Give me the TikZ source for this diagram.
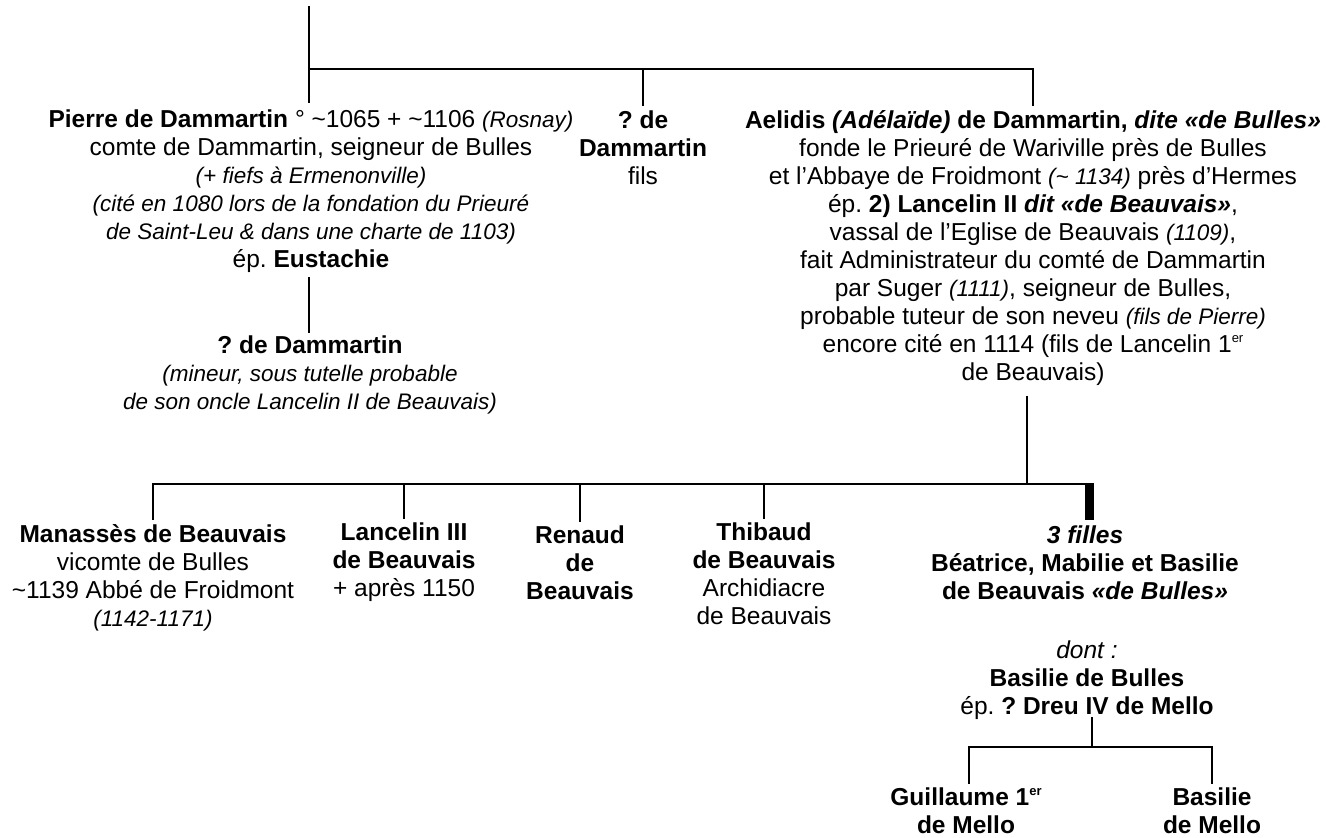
\documentclass[tikz,border=0pt]{standalone}
\usepackage{fontspec}
\setmainfont{Liberation Sans}
\frenchspacing
\newcommand\glose[1]{{\fontsize{22.5}{28}\selectfont\itshape #1}}
\newcommand\expo[1]{\raisebox{0.75ex}{\fontsize{13}{13}\selectfont #1}}

\begin{document}
\begin{tikzpicture}[x=1pt, y=-1pt, line width=2.6pt,
        person/.style={align=center, inner sep=0pt, anchor=north, font=\fontsize{24.5}{28}\selectfont}]
    \useasboundingbox (0,0) rectangle (1329,837);

    % premiere generation
    \node[person] (pierre)  at (311,108)  {\textbf{Pierre de Dammartin} ° \textasciitilde1065 + \textasciitilde1106 \glose{(Rosnay)}\\
                                            comte de Dammartin, seigneur de Bulles\\
                                            \glose{(+ fiefs à Ermenonville)}\\
                                            \glose{(cité en 1080 lors de la fondation du Prieuré}\\
                                            \glose{de Saint-Leu \& dans une charte de 1103)}\\
                                            ép. \textbf{Eustachie}};
    \node[person] (fils)    at (643,109)  {\textbf{? de}\\ \textbf{Dammartin}\\ fils};
    \node[person] (aelidis) at (1033,109) {\textbf{Aelidis \textit{(Adélaïde)} de Dammartin, \textit{dite «de Bulles»}}\\
                                            fonde le Prieuré de Wariville près de Bulles\\
                                            et l’Abbaye de Froidmont \glose{(\textasciitilde{} 1134)} près d’Hermes\\
                                            ép. \textbf{2) Lancelin II \textit{dit «de Beauvais»}},\\
                                            vassal de l’Eglise de Beauvais \glose{(1109)},\\
                                            fait Administrateur du comté de Dammartin\\
                                            par Suger \glose{(1111)}, seigneur de Bulles,\\
                                            probable tuteur de son neveu \glose{(fils de Pierre)}\\
                                            encore cité en 1114 (fils de Lancelin 1\expo{er}\\
                                            de Beauvais)};
    \node[person] (neveu)   at (310,334)  {\textbf{? de Dammartin}\\
                                            \glose{(mineur, sous tutelle probable}\\
                                            \glose{de son oncle Lancelin II de Beauvais)}};

    % enfants d'Aelidis et Lancelin
    \node[person] (manasses)  at (153,523)  {\textbf{Manassès de Beauvais}\\ vicomte de Bulles\\
                                              \textasciitilde1139 Abbé de Froidmont\\ \glose{(1142-1171)}};
    \node[person] (lancelin)  at (404,521)  {\textbf{Lancelin III}\\ \textbf{de Beauvais}\\ + après 1150};
    \node[person] (renaud)    at (580,524)  {\textbf{Renaud}\\ \textbf{de}\\ \textbf{Beauvais}};
    \node[person] (thibaud)   at (764,521)  {\textbf{Thibaud}\\ \textbf{de Beauvais}\\ Archidiacre\\ de Beauvais};
    \node[person] (filles)    at (1085,524) {\textbf{\textit{3 filles}}\\ \textbf{Béatrice, Mabilie et Basilie}\\
                                              \textbf{de Beauvais \textit{«de Bulles»}}};
    \node[person] (dont)      at (1087,639) {\textit{dont :}\\ \textbf{Basilie de Bulles}\\ ép. \textbf{? Dreu IV de Mello}};
    \node[person] (guillaume) at (966,786)  {\textbf{Guillaume 1\expo{er}}\\ \textbf{de Mello}};
    \node[person] (basilie)   at (1212,786) {\textbf{Basilie}\\ \textbf{de Mello}};

    % traits
    \coordinate (haut)    at (309,6);
    \coordinate (fratrie) at (309,69);
    \coordinate (enfants) at (1027,484);
    \coordinate (barre)   at (1094,484);
    \coordinate (mello)   at (1092,747);

    \draw (haut) -- ([yshift=5pt]haut |- pierre.north);
    \draw (fratrie) -| ([yshift=3pt]aelidis.north);
    \draw (fratrie -| fils.north) -- ([yshift=3pt]fils.north);
    \draw ([yshift=-4pt]pierre.south -| haut) -- ([yshift=1pt]neveu.north -| haut);

    \draw ([yshift=-9pt]aelidis.south -| enfants) -- (enfants);
    \draw ([yshift=3pt]manasses.north) |- (barre);
    \foreach \n in {lancelin,renaud,thibaud}
        \draw (\n.north |- barre) -- ([yshift=2pt]\n.north);
    \draw[line width=9pt] ([xshift=-4.5pt]barre) -- ([xshift=-4.5pt,yshift=4pt]barre |- filles.north);

    \draw ([yshift=3pt]dont.south -| mello) -- (mello);
    \draw ([xshift=3pt,yshift=2pt]guillaume.north) |- (mello) -| ([yshift=2pt]basilie.north);
\end{tikzpicture}
\end{document}
